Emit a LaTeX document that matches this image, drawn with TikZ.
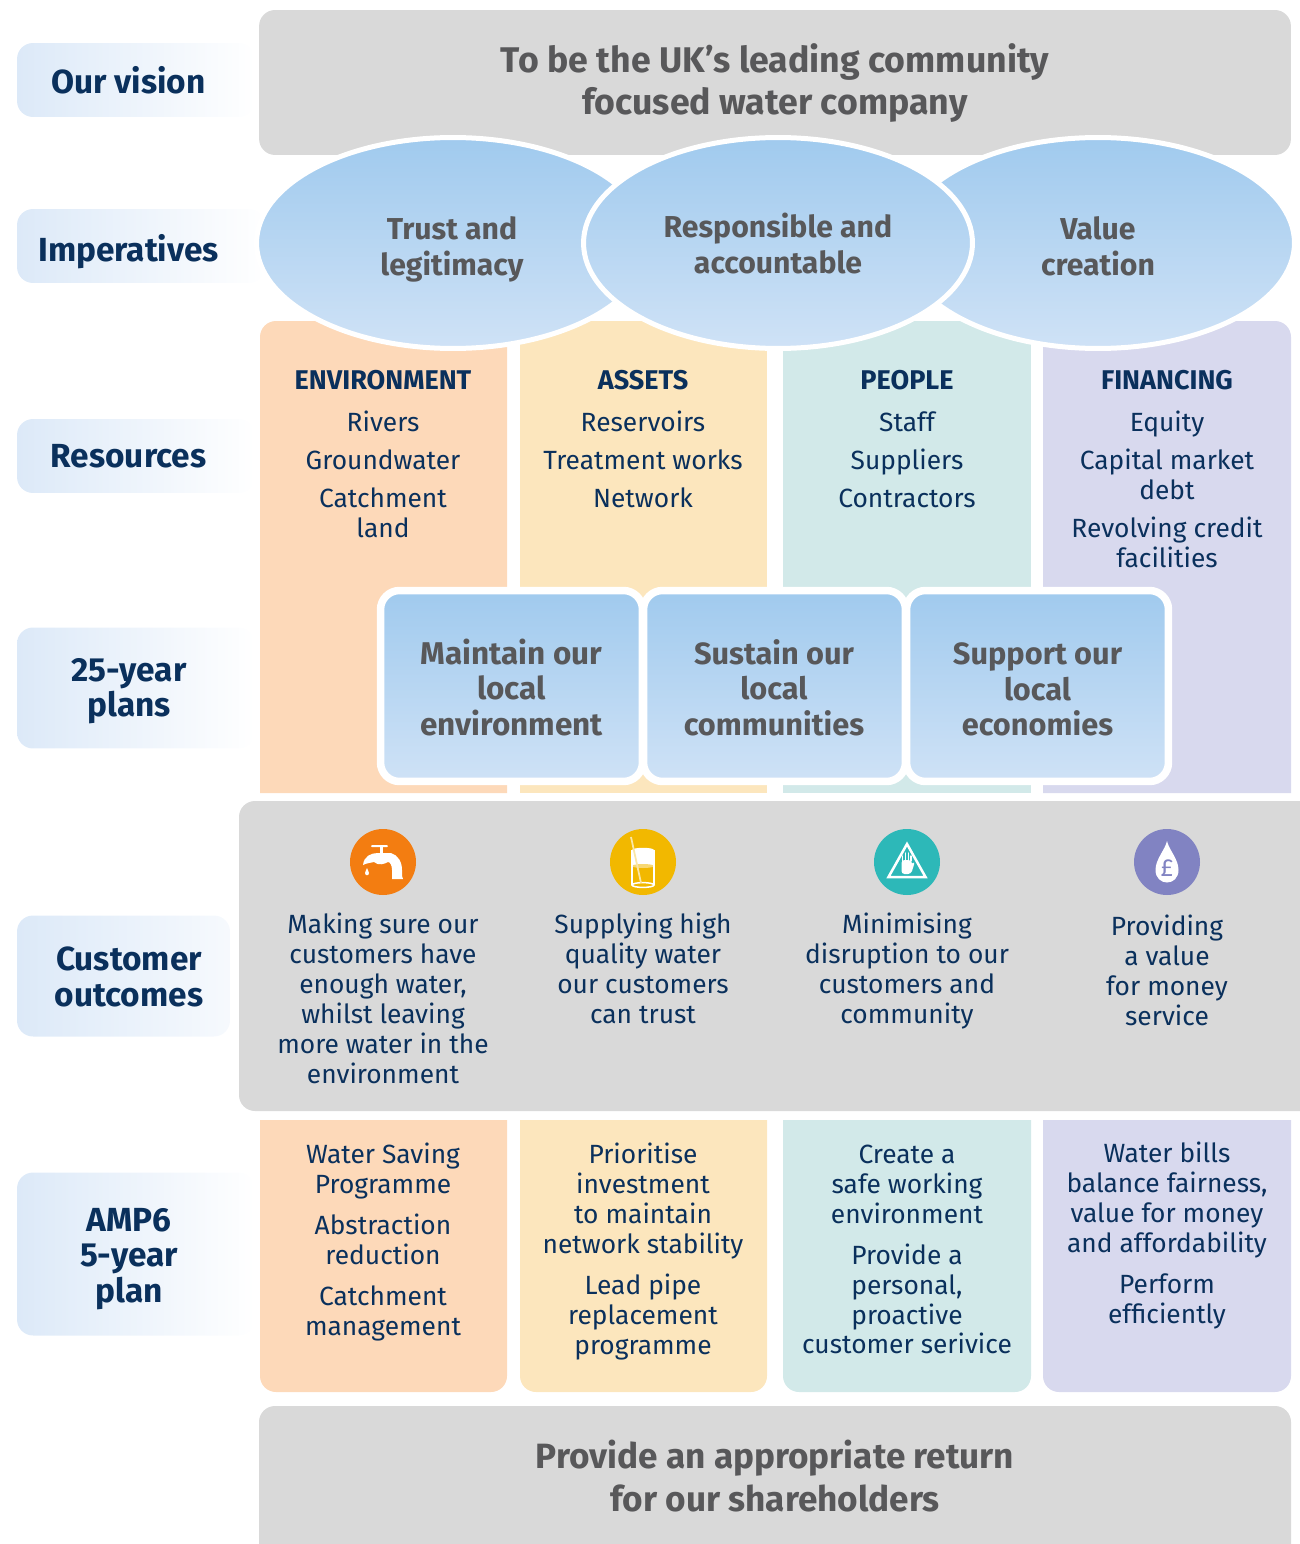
\documentclass[tikz,border=0pt]{standalone}
\usepackage{fontspec}
\setmainfont{Fira Sans}
\usetikzlibrary{shapes.geometric}
\definecolor{navytext}{HTML}{0A305C}
\definecolor{greytext}{HTML}{58585A}
\definecolor{greyfill}{HTML}{D9D9D9}
\definecolor{envfill}{HTML}{FDD9B9}
\definecolor{assetfill}{HTML}{FCE6BD}
\definecolor{peoplefill}{HTML}{D2E9E9}
\definecolor{financefill}{HTML}{D8D9EE}
\definecolor{bluetop}{HTML}{A0CAEE}
\definecolor{bluebottom}{HTML}{CFE2F6}
\definecolor{tabblue}{HTML}{DCE9F8}
\definecolor{tapcol}{HTML}{F37D11}
\definecolor{glasscol}{HTML}{F2B800}
\definecolor{handcol}{HTML}{2DB8B8}
\definecolor{dropcol}{HTML}{8183C2}
\tikzset{
	tabbox/.style={rectangle, rounded corners=0.32cm, left color=tabblue, right color=white, inner sep=0pt},
	tablabel/.style={inner sep=0pt, text=navytext, align=center, font=\fontsize{19}{20.2}\selectfont\bfseries},
	greybox/.style={rectangle, rounded corners=0.32cm, fill=greyfill, inner sep=0pt},
	greylabel/.style={inner sep=0pt, text=greytext, align=center, font=\fontsize{20.3}{24.4}\selectfont\bfseries},
	bluebubble/.style={ellipse, top color=bluetop, bottom color=bluebottom, draw=white, line width=0.1cm, inner sep=0pt},
	bubblelabel/.style={inner sep=0pt, text=greytext, align=center, font=\fontsize{17.2}{20.4}\selectfont\bfseries},
	planbox/.style={rectangle, rounded corners=0.38cm, top color=bluetop, bottom color=bluebottom, draw=white, line width=0.15cm, minimum width=5.24cm, minimum height=3.82cm},
	planlabel/.style={inner sep=0pt, text=greytext, align=center, font=\fontsize{17.5}{20.2}\selectfont\bfseries},
	coltext/.style={anchor=north, inner sep=0pt, text=navytext, align=center, font=\fontsize{15}{17}\selectfont},
	coltitle/.style={anchor=center, inner sep=0pt, text=navytext, font=\fontsize{15.4}{17}\selectfont\bfseries},
	iconcirc/.style={circle, minimum size=1.32cm, inner sep=0pt},
}
\begin{document}
\begin{tikzpicture}[x=0.02cm, y=-0.02cm]
	\useasboundingbox (0,0) rectangle (1300,1544);
	% Left labels:
	\node[tabbox, minimum width=4.76cm, minimum height=1.48cm] (vision) at (136,80) {};
	\node[tabbox, minimum width=4.96cm, minimum height=1.48cm] (imper) at (141,246) {};
	\node[tabbox, minimum width=4.76cm, minimum height=1.48cm] (resour) at (136,456) {};
	\node[tabbox, minimum width=4.76cm, minimum height=2.42cm] (plans) at (136,688) {};
	\node[tabbox, minimum width=4.26cm, minimum height=2.42cm, right color=tabblue!25] (outcom) at (123.5,976) {};
	\node[tabbox, minimum width=4.76cm, minimum height=3.26cm] (amp) at (136,1254) {};
	\node[tablabel] (visionlab) at (128.5,80) {Our vision};
	\node[tablabel] (imperlab) at (128.5,252) {Imperatives};
	\node[tablabel] (resourlab) at (128.5,456) {Resources};
	\node[tablabel] (planslab) at (129,691) {25-year\\plans};
	\node[tablabel] (outcomlab) at (129,977) {Customer\\outcomes};
	\node[tablabel] (amplab) at (129,1259) {AMP6\\5-year\\plan};
	% Grey bands:
	\node[greybox, minimum width=20.64cm, minimum height=2.9cm] (visionbox) at (775,82.5) {};
	\node[greylabel] (visiontext) at (775,83) {To be the UK’s leading community\\focused water company};
	\fill[greyfill] (1300,801) [rounded corners=0.32cm] -- (239,801) -- (239,1111) [sharp corners] -- (1300,1111) -- cycle;
	\fill[greyfill, rounded corners=0.32cm] (259,1600) -- (259,1406) -- (1291,1406) -- (1291,1600) -- cycle;
	\node[greylabel, font=\fontsize{20}{24.6}\selectfont\bfseries] (returntext) at (775,1476) {Provide an appropriate return\\for our shareholders};
	% Upper columns:
	\fill[envfill] (507,793) -- (260,793) [rounded corners=0.32cm] -- (260,321) [sharp corners] -- (507,321) -- cycle;
	\fill[assetfill] (520,321) rectangle (767,793);
	\fill[peoplefill] (783,321) rectangle (1031,793);
	\fill[financefill] (1043,793) -- (1043,321) [rounded corners=0.32cm] -- (1291,321) [sharp corners] -- (1291,793) -- cycle;
	% Lower columns:
	\fill[envfill] (507,1120) -- (260,1120) [rounded corners=0.32cm] -- (260,1392) -- (507,1392) [sharp corners] -- cycle;
	\fill[assetfill] (767,1120) -- (520,1120) [rounded corners=0.32cm] -- (520,1392) -- (767,1392) [sharp corners] -- cycle;
	\fill[peoplefill] (1031,1120) -- (783,1120) [rounded corners=0.32cm] -- (783,1392) -- (1031,1392) [sharp corners] -- cycle;
	\fill[financefill] (1291,1120) -- (1043,1120) [rounded corners=0.32cm] -- (1043,1392) -- (1291,1392) [sharp corners] -- cycle;
	% Imperatives:
	\node[bluebubble, minimum width=7.86cm, minimum height=4.22cm] (trust) at (453,243) {};
	\node[bluebubble, minimum width=7.86cm, minimum height=4.22cm] (value) at (1098,243) {};
	\node[bluebubble, minimum width=7.78cm, minimum height=4.22cm] (respon) at (778,243) {};
	\node[bubblelabel] (trustlab) at (452,249) {Trust and\\legitimacy};
	\node[bubblelabel] (valuelab) at (1098,246.5) {Value\\creation};
	\node[bubblelabel] (responlab) at (778,243.5) {Responsible and\\accountable};
	% Resources:
	\node[coltitle] (envtitle) at (383,380) {ENVIRONMENT};
	\node[coltitle] (assettitle) at (643,380) {ASSETS};
	\node[coltitle] (peopletitle) at (907,380) {PEOPLE};
	\node[coltitle] (fintitle) at (1167,380) {FINANCING};
	\node[coltext] (envlist) at (383,411) {Rivers\\[4.5pt]Groundwater\\[4.5pt]Catchment\\land};
	\node[coltext] (assetlist) at (643,411) {Reservoirs\\[4.5pt]Treatment works\\[4.5pt]Network};
	\node[coltext] (peoplelist) at (907,411.5) {Staff\\[4.5pt]Suppliers\\[4.5pt]Contractors};
	\node[coltext] (finlist) at (1167,411) {Equity\\[4.5pt]Capital market\\debt\\[4.5pt]Revolving credit\\facilities};
	% 25-year plans:
	\node[planbox] (maintain) at (511.5,686) {};
	\node[planbox] (support) at (1037.5,686) {};
	\node[planbox] (sustain) at (774.5,686) {};
	\node[planlabel, font=\fontsize{17.9}{20.2}\selectfont\bfseries] (maintainlab) at (511.5,687.5) {Maintain our\\local\\environment};
	\node[planlabel] (supportlab) at (1037.5,689.5) {Support our\\local\\economies};
	\node[planlabel] (sustainlab) at (774,687.5) {Sustain our\\local\\communities};
	% Icons:
	\node[iconcirc, fill=tapcol] (tap) at (383,862) {};
	\node[iconcirc, fill=glasscol] (glass) at (643,862) {};
	\node[iconcirc, fill=handcol] (hand) at (907,862) {};
	\node[iconcirc, fill=dropcol] (drop) at (1167,862) {};
	\begin{scope}[shift={(tap.center)}]
		\fill[white] (-20,3) .. controls (-19,-6) and (-12,-9) .. (-5,-9) -- (8,-9) .. controls (15,-7) and (19,0) .. (19,8) -- (19,14) -- (20,17) -- (9,17) -- (9,14) -- (9,8) .. controls (9,3) and (7,0) .. (5,0) .. controls (2,2) and (-5,4) .. (-9,0) .. controls (-13,1) and (-16,1) .. (-20,3) -- cycle;
		\fill[white] (-3,-16) rectangle (0,-8);
		\fill[white, rounded corners=0.02cm] (-12,-17) rectangle (5,-15);
		\fill[white] (-16,6) .. controls (-15,9) and (-14,10) .. (-14,11) .. controls (-14,14) and (-18,14) .. (-18,11) .. controls (-18,10) and (-17,9) .. (-16,6) -- cycle;
	\end{scope}
	\begin{scope}[shift={(glass.center)}]
		\fill[white] (-11,-12) rectangle (11,4);
		\fill[white] (0,-12) ellipse (11 and 2.2);
		\fill[glasscol!55!white] (0,4) ellipse (11 and 2);
		\draw[white, line width=0.03cm] (-11,-12) -- (-11,23) (11,-12) -- (11,23);
		\draw[white, line width=0.03cm] (0,23) ellipse (11 and 2.4);
		\draw[glasscol!35!white, line width=0.035cm] (-12,-25) -- (-2,21);
	\end{scope}
	\begin{scope}[shift={(hand.center)}]
		\draw[white, line width=0.05cm, line join=miter] (0,-18) -- (-18.5,15) -- (18.5,15) -- cycle;
		\fill[white, rounded corners=0.06cm] (-5.5,-2) -- (4.5,-2) -- (4.5,3) -- (8,-1) -- (6,6) -- (4,12) -- (-5.5,12) -- cycle;
		\draw[white, line width=0.03cm, line cap=round] (-4.5,-1) -- (-4.5,-6) (-1.5,-1) -- (-1.5,-9) (1.5,-1) -- (1.5,-9) (4,-1) -- (4,-6);
	\end{scope}
	\begin{scope}[shift={(drop.center)}]
		\fill[white] (0,-21) .. controls (2,-12) and (11.5,-3) .. (11.5,8) .. controls (11.5,16) and (6,20.5) .. (0,20.5) .. controls (-6,20.5) and (-11.5,16) .. (-11.5,8) .. controls (-11.5,-3) and (-2,-12) .. (0,-21) -- cycle;
	\end{scope}
	\node[text=dropcol, inner sep=0pt, font=\fontsize{14}{14}\selectfont] (poundsign) at (1167,868) {£};
	% Customer outcomes:
	\node[coltext] (outtap) at (383,913) {Making sure our\\customers have\\enough water,\\whilst leaving\\more water in the\\environment};
	\node[coltext] (outglass) at (643,913) {Supplying high\\quality water\\our customers\\can trust};
	\node[coltext] (outhand) at (907,913) {Minimising\\disruption to our\\customers and\\community};
	\node[coltext] (outdrop) at (1167,915) {Providing\\a value\\for money\\service};
	% AMP6 plan:
	\node[coltext] (ampenv) at (383,1143) {Water Saving\\Programme\\[6.2pt]Abstraction\\reduction\\[6.2pt]Catchment\\management};
	\node[coltext] (ampasset) at (643,1143) {Prioritise\\investment\\to maintain\\network stability\\[6.2pt]Lead pipe\\replacement\\programme};
	\node[coltext] (amppeople) at (907,1145) {Create a\\safe working\\environment\\[6.2pt]Provide a\\personal,\\proactive\\customer serivice};
	\node[coltext] (ampfin) at (1167,1142) {Water bills\\balance fairness,\\value for money\\and affordability\\[6.2pt]Perform\\efficiently};
\end{tikzpicture}
\end{document}
